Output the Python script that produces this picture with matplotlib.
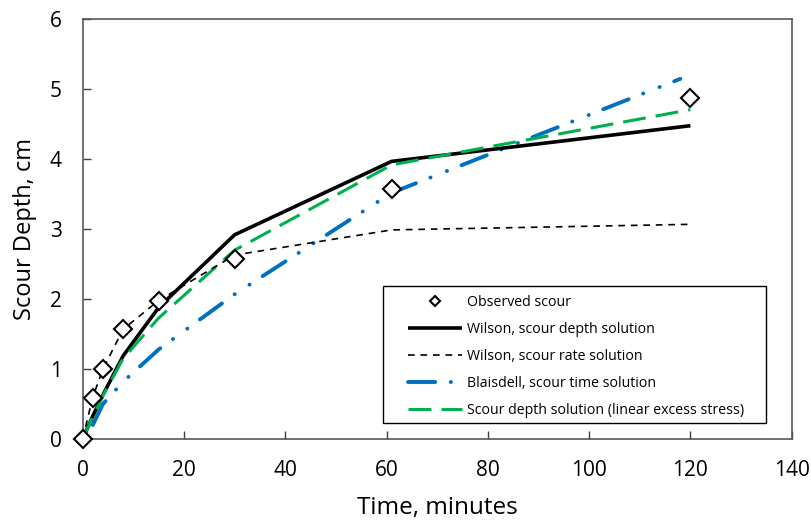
import matplotlib
matplotlib.use("Agg")
import matplotlib.pyplot as plt
from matplotlib.patches import Rectangle

plt.rcParams['font.family'] = ['Open Sans', 'DejaVu Sans']

# Observed scour
obs_t = [0, 2, 4, 8, 15, 30, 61, 120]
obs_d = [0, 0.59, 1.0, 1.57, 1.97, 2.57, 3.57, 4.88]

# Wilson, scour depth solution
wd_t = [0, 2, 4, 8, 15, 30, 61, 120]
wd_d = [0, 0.33, 0.63, 1.19, 1.88, 2.92, 3.97, 4.48]

# Wilson, scour rate solution
wr_t = [0, 2, 4, 8, 15, 30, 61, 120]
wr_d = [0, 0.6, 1.0, 1.57, 1.98, 2.63, 2.99, 3.07]

# Blaisdell, scour time solution
bl_t = [2, 4, 8, 15, 30, 61, 118]
bl_d = [0.2, 0.5, 0.82, 1.28, 2.07, 3.52, 5.15]

# Scour depth solution (linear excess stress)
ls_t = [0, 2, 4, 8, 15, 30, 61, 120]
ls_d = [0, 0.32, 0.62, 1.15, 1.73, 2.70, 3.92, 4.71]

labels = ["Observed scour", "Wilson, scour depth solution", "Wilson, scour rate solution",
          "Blaisdell, scour time solution", "Scour depth solution (linear excess stress)"]

fig = plt.figure(figsize=(8.12, 5.25), dpi=100)
ax = fig.add_axes([0.1018, 0.1638, 0.8732, 0.7992])

h1, = ax.plot(obs_t, obs_d, linestyle='none', marker='D', markersize=9, markerfacecolor='white',
              markeredgecolor='black', markeredgewidth=1.5, zorder=5, clip_on=False)
h2, = ax.plot(wd_t, wd_d, color='black', lw=2.6, solid_capstyle='butt', zorder=3)
h3, = ax.plot(wr_t, wr_d, color='black', lw=1.2, dashes=(4, 3.5), zorder=4)
h4, = ax.plot(bl_t, bl_d, color='#0070C0', lw=2.8, dashes=(7, 4, 0.05, 4.5, 0.05, 4),
              dash_capstyle='round', zorder=2)
h5, = ax.plot(ls_t, ls_d, color='#00B050', lw=2.2, dashes=(7.5, 3.3), zorder=3)

ax.set_xlim(0, 140)
ax.set_ylim(0, 6)
ax.set_xticks(range(0, 141, 20))
ax.set_yticks(range(0, 7, 1))
ax.tick_params(direction='in', length=6, width=1, colors='#404040', labelcolor='black',
               labelsize=15)
ax.tick_params(axis='x', pad=15)
ax.tick_params(axis='y', pad=15)
for s in ax.spines.values():
    s.set_color('#595959')
    s.set_linewidth(1.2)

ax.set_xlabel("Time, minutes", fontsize=17.5, labelpad=11)
ax.set_ylabel("Scour Depth, cm", fontsize=17, labelpad=9)

ax.add_patch(Rectangle((0.4236, 0.038), 0.54, 0.327, transform=ax.transAxes,
                       fill=True, facecolor='white', edgecolor='black', lw=1.0, zorder=6))
leg = ax.legend([h1, h2, h3, h4, h5], labels, loc='upper left',
                bbox_to_anchor=(0.4588, 0.344), borderpad=0,
                fontsize=10.2, frameon=False,
                markerscale=0.55, handlelength=3.8, handletextpad=0.35, borderaxespad=0,
                labelspacing=0.85)
leg.set_zorder(7)

fig.savefig("out.png", dpi=100)
